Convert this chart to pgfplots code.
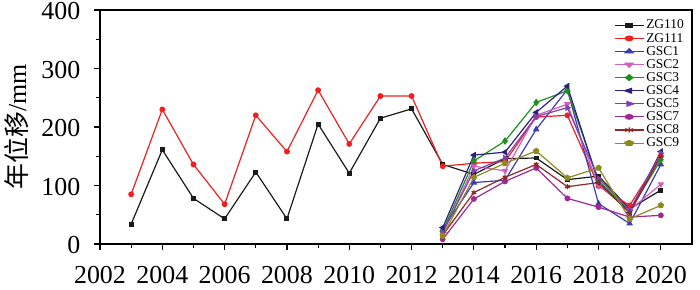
\documentclass[border=0pt]{standalone}
\usepackage{pgfplots}
\pgfplotsset{compat=1.18}
\usepackage{fontspec}
\setmainfont{Liberation Serif}
\newfontfamily\cjk{Noto Sans CJK SC}
\definecolor{cZGa}{HTML}{1A1A1A}
\definecolor{cZGb}{HTML}{F02020}
\definecolor{cG1}{HTML}{3C3CB4}
\definecolor{cG2}{HTML}{D060C0}
\definecolor{cG3}{HTML}{1E901E}
\definecolor{cG4}{HTML}{2E2080}
\definecolor{cG5}{HTML}{8040B0}
\definecolor{cG7}{HTML}{A02890}
\definecolor{cG8}{HTML}{902828}
\definecolor{cG9}{HTML}{8C8C1E}
\begin{document}
\begin{tikzpicture}
\begin{axis}[
  at={(0,0)}, anchor=south west,
  scale only axis, width=592bp, height=234bp,
  xmin=2002, xmax=2021, ymin=0, ymax=400,
  xtick={2002,2004,...,2020}, minor xtick={2003,2005,...,2019},
  ytick={0,100,...,400}, minor ytick={50,150,250,350},
  tick align=outside, tick pos=left,
  major tick length=6bp, minor tick length=4bp,
  every tick/.style={black, line width=1.2pt},
  axis line style={line width=1.6pt},
  /pgf/number format/1000 sep={},
  /pgf/number format/assume math mode=true,
  tick label style={font=\fontsize{26}{28}\selectfont, inner sep=0.5bp},
  xticklabel style={yshift=-16bp},
  yticklabel style={xshift=-13bp, yshift=-1.5bp},
  ylabel={{\cjk 年位移}/mm},
  ylabel style={font=\fontsize{26}{28}\selectfont, yshift=9bp},
  legend style={draw=none, fill=none, at={(0.995,0.975)}, anchor=north east,
    font=\fontsize{13.5}{14}\selectfont, row sep=-1.3pt, legend cell align=left},
  legend image post style={xscale=1.7},
  every axis plot/.append style={line width=1.2pt, mark size=2.3pt},
]
\addplot[cZGa, mark=square*, mark size=1.9pt] coordinates {
(2003,34) (2004,161) (2005,78) (2006,43) (2007,123) (2008,43) (2009,205) (2010,121) (2011,215) (2012,231)
(2013,136) (2014,119) (2015,146) (2016,147) (2017,110) (2018,116) (2019,60) (2020,92)};
\addlegendentry{ZG110}
\addplot[cZGb, mark=*] coordinates {
(2003,85) (2004,230) (2005,136) (2006,68) (2007,220) (2008,158) (2009,263) (2010,171) (2011,253) (2012,253)
(2013,133) (2014,138) (2015,141) (2016,217) (2017,220) (2018,99) (2019,66) (2020,150)};
\addlegendentry{ZG111}
\addplot[cG1, mark=triangle*, mark size=2.7pt] coordinates {
(2013,25) (2014,105) (2015,109) (2016,196) (2017,264) (2018,69) (2019,35) (2020,136)};
\addlegendentry{GSC1}
\addplot[cG2, mark=triangle*, mark options={rotate=180}, mark size=2.7pt] coordinates {
(2013,18) (2014,133) (2015,125) (2016,220) (2017,239) (2018,100) (2019,58) (2020,102)};
\addlegendentry{GSC2}
\addplot[cG3, mark=diamond*, mark size=2.9pt] coordinates {
(2013,22) (2014,142) (2015,176) (2016,242) (2017,262) (2018,108) (2019,56) (2020,144)};
\addlegendentry{GSC3}
\addplot[cG4, mark=triangle*, mark options={rotate=90}, mark size=2.7pt] coordinates {
(2013,28) (2014,152) (2015,157) (2016,225) (2017,270) (2018,105) (2019,54) (2020,158)};
\addlegendentry{GSC4}
\addplot[cG5, mark=triangle*, mark options={rotate=-90}, mark size=2.7pt] coordinates {
(2013,20) (2014,125) (2015,147) (2016,218) (2017,233) (2018,112) (2019,58) (2020,155)};
\addlegendentry{GSC5}
\addplot[cG7, mark=*] coordinates {
(2013,8) (2014,77) (2015,107) (2016,130) (2017,78) (2018,63) (2019,46) (2020,49)};
\addlegendentry{GSC7}
\addplot[cG8, mark=asterisk, mark size=2.7pt] coordinates {
(2013,15) (2014,88) (2015,114) (2016,136) (2017,98) (2018,105) (2019,53) (2020,150)};
\addlegendentry{GSC8}
\addplot[cG9, mark=pentagon*, mark size=2.7pt] coordinates {
(2013,14) (2014,114) (2015,138) (2016,159) (2017,113) (2018,130) (2019,43) (2020,66)};
\addlegendentry{GSC9}
\end{axis}
\pgfresetboundingbox
\useasboundingbox (-100bp,-46bp) rectangle (600bp,244bp);
\end{tikzpicture}
\end{document}
